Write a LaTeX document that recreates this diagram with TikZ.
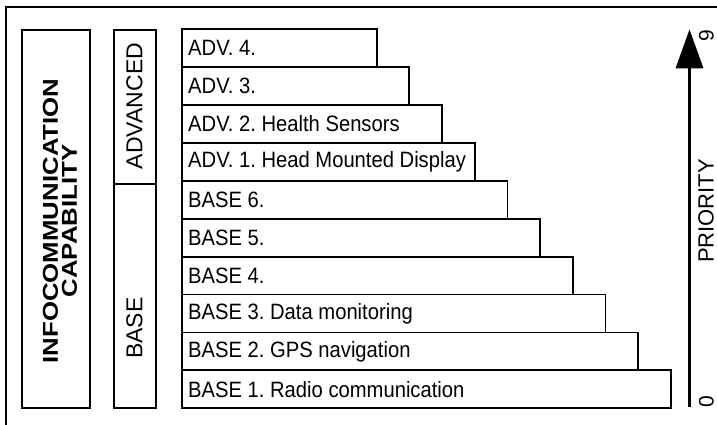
\documentclass[tikz,border=0pt]{standalone}
\usepackage{fontspec}
\setmainfont{Liberation Sans}
\newfontfamily\widebold[FakeStretch=1.2]{Liberation Sans Bold}
\newfontfamily\rowfont[FakeStretch=0.91]{Liberation Sans}
\usetikzlibrary{arrows.meta}
\frenchspacing
\tikzset{
  rowbox/.style={draw, line width=1.8pt, anchor=north west, minimum height=37.9pt, inner sep=0pt},
  rowtext/.style={anchor=west, inner sep=0pt, font=\rowfont\fontsize{22.2}{26}\selectfont},
  framebox/.style={draw, line width=1.8pt},
  vlabel/.style={rotate=90, inner sep=0pt, font=\fontsize{23}{27}\selectfont},
}
\begin{document}
\begin{tikzpicture}[x=1pt,y=-1pt]
\path[use as bounding box] (0,0) rectangle (717,425);
% outer frame (only top and left visible)
\coordinate (fbl) at (5.7,425);
\coordinate (ftr) at (717,7.3);
\draw[line width=2pt] (fbl) |- (ftr);
% left box
\node[framebox, minimum width=68.6pt, minimum height=378.3pt, inner sep=0pt, anchor=north west] (cap) at (20.7,29) {};
\node[rotate=90, inner sep=0pt, align=center, font=\widebold\fontsize{21.5}{19}\selectfont] (captext) at (60,221) {INFOCOMMUNICATION\\CAPABILITY};
% middle boxes
\node[framebox, minimum width=41.7pt, minimum height=154pt, inner sep=0pt, anchor=north west] (adv) at (113.3,29) {};
\node[framebox, minimum width=41.7pt, minimum height=224.3pt, inner sep=0pt, anchor=north west] (base) at (113.3,183) {};
\node[vlabel] (advtext) at (134.5,106) {ADVANCED};
\node[vlabel] (basetext) at (134.5,328) {BASE};
% rows
\foreach \i/\t in {0/{ADV. 4.},1/{ADV. 3.},2/{ADV. 2. Health Sensors},3/{ADV. 1. Head Mounted Display},4/{BASE 6.},5/{BASE 5.},6/{BASE 4.},7/{BASE 3. Data monitoring},8/{BASE 2. GPS navigation},9/{BASE 1. Radio communication}}{
  \pgfmathsetmacro{\w}{194.7+\i*32.7}
  \node[rowbox, minimum width=\w pt] (row\i) at (181,28.3+\i*37.9) {};
  \node[rowtext] (txt\i) at ([xshift=7pt]row\i.west) {\t};
}
% priority axis
\coordinate (ax0) at (689.5,407);
\coordinate (ax9) at (689.5,29.3);
\draw[line width=3.5pt, -{Triangle[length=39pt,width=27pt]}] (ax0) -- (ax9);
\node[vlabel, font=\fontsize{22}{26}\selectfont] (prio) at (706,211) {PRIORITY};
\node[vlabel, font=\fontsize{21}{25}\selectfont] (nine) at (706.5,36) {9};
\node[vlabel, font=\fontsize{21}{25}\selectfont] (zero) at (706.5,402) {0};
\end{tikzpicture}
\end{document}
